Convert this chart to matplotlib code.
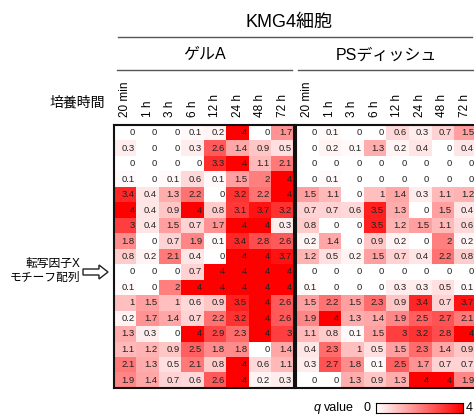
import matplotlib
matplotlib.use("Agg")
import matplotlib.pyplot as plt
from matplotlib.colors import LinearSegmentedColormap
from matplotlib.lines import Line2D
from matplotlib.patches import FancyArrow
import numpy as np

plt.rcParams['font.family'] = ['Liberation Sans', 'Noto Sans CJK JP', 'DejaVu Sans']

times = ["20 min", "1 h", "3 h", "6 h", "12 h", "24 h", "48 h", "72 h"]
groups = ["ゲルA", "PSディッシュ"]

# q values, 17 motif rows x 8 time points
gel_a = [
    [0, 0, 0, 0.1, 0.2, 4, 0, 1.7],
    [0.3, 0, 0, 0.3, 2.6, 1.4, 0.9, 0.5],
    [0, 0, 0, 0, 3.3, 4, 1.1, 2.1],
    [0.1, 0, 0.1, 0.6, 0.1, 1.5, 2, 4],
    [3.4, 0.4, 1.3, 2.2, 0, 3.2, 2.2, 4],
    [4, 0.4, 0.9, 4, 0.8, 3.1, 3.7, 3.2],
    [3, 0.4, 1.5, 0.7, 1.7, 4, 4, 0.3],
    [1.8, 0, 0.7, 1.9, 0.1, 3.4, 2.8, 2.6],
    [0.8, 0.2, 2.1, 0.4, 0, 4, 4, 3.7],
    [0, 0, 0, 0.7, 4, 4, 4, 4],
    [0.1, 0, 2, 4, 4, 4, 4, 4],
    [1, 1.5, 1, 0.6, 0.9, 3.5, 4, 2.6],
    [0.2, 1.7, 1.4, 0.7, 2.2, 3.2, 4, 2.6],
    [1.3, 0.3, 0, 4, 2.9, 2.3, 4, 3],
    [1.1, 1.2, 0.9, 2.5, 1.8, 1.8, 0, 1.4],
    [2.1, 1.3, 0.5, 2.1, 0.8, 4, 0.6, 1.1],
    [1.9, 1.4, 0.7, 0.6, 2.6, 4, 0.2, 0.3],
]
ps_dish = [
    [0, 0.1, 0, 0, 0.6, 0.3, 0.7, 1.5],
    [0, 0.2, 0.1, 1.3, 0.2, 0.4, 0, 0.4],
    [0, 0, 0, 0, 0, 0, 0, 0],
    [0, 0.1, 0, 0, 0, 0, 0, 0],
    [1.5, 1.1, 0, 1, 1.4, 0.3, 1.1, 1.2],
    [0.7, 0.7, 0.6, 3.5, 1.3, 0, 1.5, 0.4],
    [0.8, 0, 0, 3.5, 1.2, 1.5, 1.1, 0.6],
    [0.2, 1.4, 0, 0.9, 0.2, 0, 2, 0.2],
    [1.2, 0.5, 0.2, 1.5, 0.7, 0.4, 2.2, 0.8],
    [0, 0, 0, 0, 0, 0, 0, 0],
    [0.1, 0, 0, 0, 0.3, 0.3, 0.5, 0.1],
    [1.5, 2.2, 1.5, 2.3, 0.9, 3.4, 0.7, 3.7],
    [1.9, 4, 1.3, 1.4, 1.9, 2.5, 2.7, 2.1],
    [1.1, 0.8, 0.1, 1.5, 3, 3.2, 2.8, 4],
    [0.4, 2.3, 1, 0.5, 1.5, 2.3, 1.4, 0.9],
    [0.3, 2.7, 1.8, 0.1, 2.5, 1.7, 0.7, 0.7],
    [0, 0, 1.3, 0.9, 1.3, 4, 4, 1.9],
]

W, H = 474, 416
cmap = LinearSegmentedColormap.from_list("wr", ["#ffffff", "#ff0000"])

fig = plt.figure(figsize=(W / 100, H / 100), dpi=100)


def fx(px):
    return px / W


def fy(py):
    return 1 - py / H


top, bottom = 125, 388
cw = 22.5
lefts = [114, 296]

for gi, (name, data) in enumerate(zip(groups, [gel_a, ps_dish])):
    arr = np.array(data)
    x0 = lefts[gi]
    ax = fig.add_axes([fx(x0), fy(bottom), cw * 8 / W, (bottom - top) / H])
    ax.imshow(arr, cmap=cmap, vmin=0, vmax=4, aspect="auto")
    for i in range(arr.shape[0]):
        for j in range(arr.shape[1]):
            ax.text(j + 0.42, i, f"{arr[i, j]:g}", ha="right", va="center",
                    fontsize=6.8, color="#222222")
    ax.set_xticks(range(len(times)))
    ax.set_xticklabels(times, rotation=90, fontsize=8.5)
    ax.xaxis.tick_top()
    ax.tick_params(axis="x", length=0, pad=6)
    ax.set_yticks([])
    for s in ax.spines.values():
        s.set_linewidth(1.5)
        s.set_color("#111111")
    # group header and rule
    xc = x0 + cw * 4
    fig.text(fx(xc), fy(55), name, ha="center", va="center", fontsize=11.5)
    x1 = x0 + 3 if gi == 0 else x0 + 2
    x2 = x0 + cw * 8 - 2 if gi == 0 else 474
    fig.add_artist(Line2D([fx(x1), fx(x2)], [fy(70), fy(70)], color="#555555", lw=1))

fig.text(fx(289), fy(22), "KMG4細胞", ha="center", va="center", fontsize=13)
fig.add_artist(Line2D([fx(118), fx(472)], [fy(37), fy(37)], color="#555555", lw=1))

fig.text(fx(105), fy(103), "培養時間", ha="right", va="center", fontsize=10)
fig.text(fx(80), fy(271), "転写因子X\nモチーフ配列", ha="right", va="center",
         fontsize=8.5, linespacing=1.3)
arrow = FancyArrow(83 / 100, (H - 272) / 100, 25 / 100, 0, width=6 / 100,
                   head_width=14 / 100, head_length=9 / 100,
                   length_includes_head=True, fc="white", ec="#222222", lw=1,
                   transform=fig.dpi_scale_trans)
fig.add_artist(arrow)

# colour scale
cax = fig.add_axes([fx(376), fy(413), (463 - 376) / W, 10 / H])
cax.imshow(np.linspace(0, 4, 100).reshape(1, -1), cmap=cmap, aspect="auto", vmin=0, vmax=4)
cax.set_xticks([])
cax.set_yticks([])
for s in cax.spines.values():
    s.set_linewidth(0.8)
fig.text(fx(324), fy(408), "value", ha="left", va="center", fontsize=9)
fig.text(fx(321), fy(408), "q", ha="right", va="center", fontsize=9, style="italic")
fig.text(fx(371), fy(408), "0", ha="right", va="center", fontsize=9)
fig.text(fx(466), fy(408), "4", ha="left", va="center", fontsize=9)

fig.savefig("out.png", dpi=100)
